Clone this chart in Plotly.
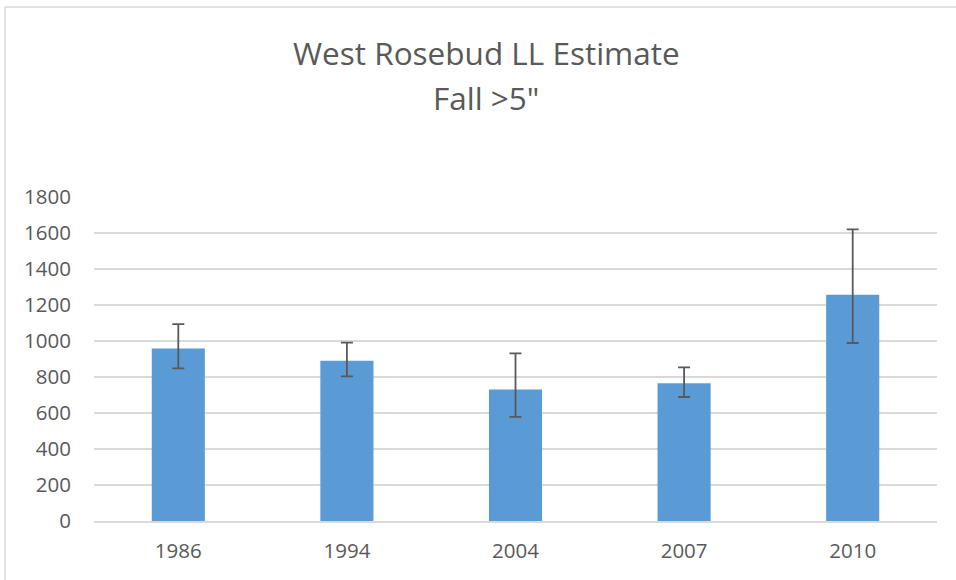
import plotly.graph_objects as go

years = ["1986", "1994", "2004", "2007", "2010"]
estimates = [959, 890, 731, 765, 1257]
upper_ci = [1094, 991, 931, 854, 1620]
lower_ci = [848, 804, 578, 689, 989]

err_plus = [u - e for u, e in zip(upper_ci, estimates)]
err_minus = [e - l for e, l in zip(estimates, lower_ci)]

W, H = 956, 580
ML, MR, MT, MB = 94, 19, 197, 59
PW, PH = W - ML - MR, H - MT - MB

def px_x(x):
    return (x - ML) / PW

def px_y(y):
    return (H - MB - y) / PH

text_col = "#595959"
font_fam = "Open Sans, Liberation Sans, sans-serif"

fig = go.Figure(go.Bar(
    x=years, y=estimates,
    marker=dict(color="#5B9BD5", line=dict(width=0)),
    error_y=dict(type="data", symmetric=False, array=err_plus, arrayminus=err_minus,
                 color="#595959", thickness=1.8, width=6),
))

fig.update_layout(
    width=W, height=H,
    margin=dict(l=ML, r=MR, t=MT, b=MB),
    paper_bgcolor="white", plot_bgcolor="white",
    bargap=0.685,
    showlegend=False,
    font=dict(family=font_fam, color=text_col),
    xaxis=dict(showgrid=False, showline=True, linecolor="#D9D9D9", linewidth=1.5,
               ticks="", tickfont=dict(size=20.5, color=text_col), ticklabelstandoff=11),
    yaxis=dict(range=[0, 1800], dtick=200, showgrid=True, gridcolor="#D9D9D9", gridwidth=1.5,
               zeroline=False, showline=False, ticks="",
               tickfont=dict(size=20.5, color=text_col), ticklabelstandoff=22),
    annotations=[
        dict(text="West Rosebud LL Estimate", xref="paper", yref="paper",
             x=px_x(486), y=px_y(52), xanchor="center", yanchor="middle",
             showarrow=False, font=dict(size=31.5, color=text_col, family=font_fam)),
        dict(text="Fall >5\"", xref="paper", yref="paper",
             x=px_x(486), y=px_y(98), xanchor="center", yanchor="middle",
             showarrow=False, font=dict(size=31.5, color=text_col, family=font_fam)),
    ],
    shapes=[
        dict(type="line", xref="paper", yref="paper", x0=px_x(5), x1=px_x(960),
             y0=px_y(7), y1=px_y(7), line=dict(color="#D9D9D9", width=1.5)),
        dict(type="line", xref="paper", yref="paper", x0=px_x(5), x1=px_x(5),
             y0=px_y(7), y1=px_y(585), line=dict(color="#D9D9D9", width=1.5)),
    ],
)

fig.write_html("out.html", config={"displayModeBar": False},
               post_script="document.body.style.margin='0';")
